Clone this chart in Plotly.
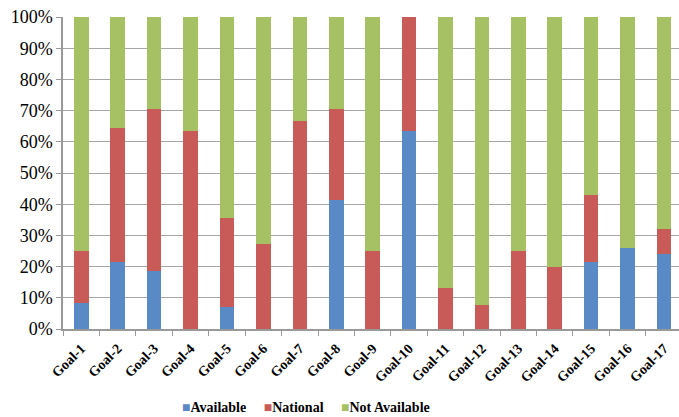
import plotly.graph_objects as go

goals = [f"Goal-{i}" for i in range(1, 18)]
available = [8.3, 21.4, 18.5, 0, 7.1, 0, 0, 41.2, 0, 63.6, 0, 0, 0, 0, 21.4, 26.1, 24.1]
national = [16.7, 42.9, 51.9, 63.6, 28.6, 27.3, 66.7, 29.4, 25.0, 36.4, 13.3, 7.8, 25.0, 20.0, 21.5, 0, 7.8]
not_available = [round(100 - a - n, 1) for a, n in zip(available, national)]

series_names = ["Available", "National", "Not Available"]
series_values = [available, national, not_available]
colors = ["#5A8AC6", "#C85A58", "#A6C164"]

fig = go.Figure()
for name, vals, col in zip(series_names, series_values, colors):
    fig.add_trace(go.Bar(x=goals, y=vals, name=name, marker=dict(color=col, line=dict(width=0))))

# Excel-style compact legend drawn as one text line
legend_text = "&nbsp;&nbsp;&nbsp;&nbsp;&nbsp;".join(
    f"<span style='color:{c}'>■</span>{n}" for n, c in zip(series_names, colors)
)

font_family = "Liberation Serif, Times New Roman, serif"
fig.update_layout(
    barmode="stack",
    bargap=0.6,
    width=679, height=417,
    margin=dict(l=63, r=0, t=17, b=88),
    plot_bgcolor="white", paper_bgcolor="white",
    font=dict(family=font_family, color="black"),
    showlegend=False,
    annotations=[dict(text=legend_text, xref="paper", yref="paper", x=0.394, y=-0.253,
                      xanchor="center", yanchor="middle", showarrow=False,
                      font=dict(size=14, family=font_family, weight="bold", color="black"))],
    xaxis=dict(type="category", range=[-0.5, 16.41], tickson="boundaries", ticks="outside",
               ticklen=5, tickcolor="#999999", showline=True, linecolor="#999999", linewidth=1.5,
               tickangle=-45, tickfont=dict(size=14, family=font_family, weight="bold"),
               ticklabelstandoff=4, showgrid=False, automargin=False),
    yaxis=dict(range=[0, 100], dtick=10, ticksuffix="%", ticks="outside", ticklen=5,
               tickcolor="#999999", showline=True, linecolor="#999999", linewidth=1.5,
               showgrid=True, gridcolor="#A6A6A6", gridwidth=1.3, automargin=False,
               tickfont=dict(size=18, family=font_family), zeroline=False),
)

fig.write_html("out.html", config={"displayModeBar": False},
               post_script="document.body.style.margin='0';document.body.style.overflow='hidden';")
